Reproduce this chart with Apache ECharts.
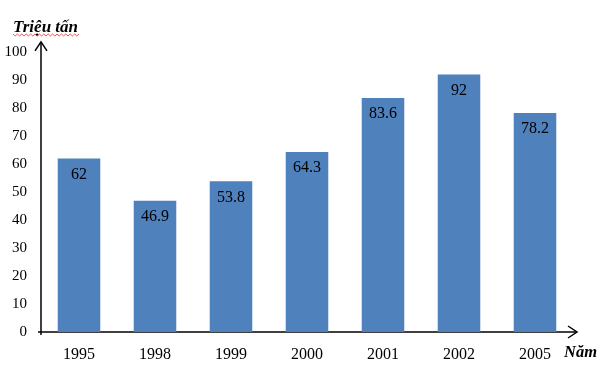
<!DOCTYPE html>
<html><head><meta charset="utf-8">
<script src="https://cdn.jsdelivr.net/npm/echarts@6/dist/echarts.min.js"></script>
<style>html,body{margin:0;padding:0;background:#fff}#c{width:615px;height:368px}</style>
</head><body><div id="c"></div>
<script>
const categories = ['1995','1998','1999','2000','2001','2002','2005'];
const values = [62, 46.9, 53.8, 64.3, 83.6, 92, 78.2];
const yTicks = [0,10,20,30,40,50,60,70,80,90,100];
const yTitle = 'Triệu tấn';
const xTitle = 'Năm';

(function () {
const chart = echarts.init(document.getElementById('c'));
const font = 'Liberation Serif';
chart.setOption({
  animation: false,
  grid: {left: 41, right: 42, top: 38, bottom: 36},
  xAxis: {
    type: 'category', data: categories,
    axisLine: {show: false},
    axisTick: {show: false},
    axisLabel: {color: '#000', fontFamily: font, fontSize: 16, margin: 15}
  },
  yAxis: {
    type: 'value', min: 0, max: 105, interval: 10,
    splitLine: {show: false},
    axisLine: {show: false},
    axisTick: {show: false},
    axisLabel: {color: '#000', fontFamily: font, fontSize: 15, margin: 14,
      formatter: v => yTicks.indexOf(v) >= 0 ? String(v) : ''}
  },
  series: [{
    type: 'bar', data: values, barWidth: '56%',
    itemStyle: {color: '#4F81BD'},
    label: {show: true, position: 'insideTop', distance: 8, color: '#000',
      fontFamily: font, fontSize: 16}
  }]
});

const step = chart.convertToPixel({xAxisIndex: 0}, 1) - chart.convertToPixel({xAxisIndex: 0}, 0);
const xLeft = chart.convertToPixel({xAxisIndex: 0}, 0) - step / 2;
const xRight = chart.convertToPixel({xAxisIndex: 0}, categories.length - 1) + step / 2;
const y0 = chart.convertToPixel({yAxisIndex: 0}, 0);
const yEnd = chart.convertToPixel({yAxisIndex: 0}, 103.6);
const xEnd = xRight + 4;
const wave = [];
for (let i = 0; i <= 30; i++) wave.push([13 + i * 2.2, 35 + (i % 2 ? 1 : -1)]);
chart.setOption({
  graphic: [
    {type: 'line', shape: {x1: xLeft - 3, y1: y0, x2: xEnd, y2: y0}, style: {stroke: '#000', lineWidth: 1.5}},
    {type: 'polyline', shape: {points: [[xEnd - 9, y0 - 6], [xEnd, y0], [xEnd - 9, y0 + 6]]}, style: {stroke: '#000', lineWidth: 1.5, fill: null}},
    {type: 'line', shape: {x1: xLeft, y1: y0 + 3, x2: xLeft, y2: yEnd}, style: {stroke: '#000', lineWidth: 1.5}},
    {type: 'polyline', shape: {points: [[xLeft - 6, yEnd + 9], [xLeft, yEnd], [xLeft + 6, yEnd + 9]]}, style: {stroke: '#000', lineWidth: 1.5, fill: null}},
    {type: 'text', left: 13, top: 19, style: {text: yTitle, font: 'italic bold 17px "Liberation Serif"', fill: '#000'}},
    {type: 'polyline', shape: {points: wave}, style: {stroke: '#e03030', lineWidth: 0.8, fill: null}},
    {type: 'text', left: 564, top: 344, style: {text: xTitle, font: 'italic bold 16.5px "Liberation Serif"', fill: '#000'}}
  ]
});
})();
</script></body></html>
